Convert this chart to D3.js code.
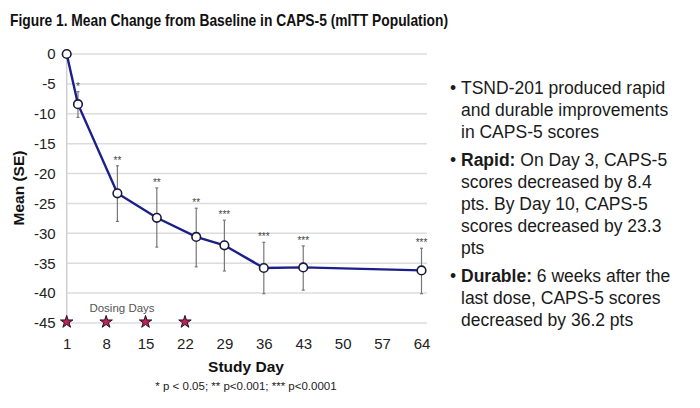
<!DOCTYPE html>
<html><head><meta charset="utf-8">
<script src="https://cdn.jsdelivr.net/npm/d3@7"></script>
<style>
body{margin:0;background:#fff;}
svg{display:block;font-family:"Liberation Sans",Arial,Helvetica,sans-serif;}
</style></head>
<body><svg id="c" width="700" height="408"></svg>
<script>
const days = [1, 3, 10, 17, 24, 29, 36, 43, 64];
const means = [0, -8.4, -23.3, -27.4, -30.6, -32.0, -35.8, -35.7, -36.2];
const seUpper = [0, -6.3, -18.7, -22.4, -25.8, -27.8, -31.5, -32.1, -32.5];
const seLower = [0, -10.6, -28.0, -32.3, -35.6, -36.3, -40.1, -39.5, -40.1];
const sigLabels = ["", "*", "**", "**", "**", "***", "***", "***", "***"];
const xTicks = [1, 8, 15, 22, 29, 36, 43, 50, 57, 64];
const yTicks = [0, -5, -10, -15, -20, -25, -30, -35, -40, -45];
const dosingDays = [1, 8, 15, 22];
const title = "Figure 1. Mean Change from Baseline in CAPS-5 (mITT Population)";
const bullets = [
  {bold: "", lines: ["TSND-201 produced rapid", "and durable improvements", "in CAPS-5 scores"]},
  {bold: "Rapid:", lines: [" On Day 3, CAPS-5", "scores decreased by 8.4", "pts. By Day 10, CAPS-5", "scores decreased by 23.3", "pts"]},
  {bold: "Durable:", lines: [" 6 weeks after the", "last dose, CAPS-5 scores", "decreased by 36.2 pts"]}
];

const svg = d3.select("#c");
const x = d3.scaleLinear().domain([1, 64]).range([66.7, 421.5]);
const y = d3.scaleLinear().domain([0, -45]).range([54, 323]);
const gridRight = 427;

svg.append("text").attr("x", 10).attr("y", 26).attr("font-size", 17).attr("font-weight", "bold")
  .attr("fill", "#111").attr("textLength", 438).attr("lengthAdjust", "spacingAndGlyphs").text(title);

// gridlines
svg.append("g").selectAll("line").data(yTicks).join("line")
  .attr("x1", x(1)).attr("x2", gridRight).attr("y1", d => y(d)).attr("y2", d => y(d))
  .attr("stroke", "#dcdcdc").attr("stroke-width", 1.5);
// y axis line
svg.append("line").attr("x1", x(1)).attr("x2", x(1)).attr("y1", y(0)).attr("y2", y(-45))
  .attr("stroke", "#cfcfcf").attr("stroke-width", 1.5);

const fmt = d => String(d);
const yAxis = svg.append("g").attr("transform", `translate(${x(1) - 11},0)`)
  .call(d3.axisLeft(y).tickValues(yTicks).tickSize(0).tickPadding(0).tickFormat(fmt));
yAxis.select(".domain").remove();
yAxis.selectAll("text").attr("font-size", 15).attr("fill", "#222").attr("font-family", "Liberation Sans,Arial,sans-serif");

const xAxis = svg.append("g").attr("transform", `translate(0,${y(-45) + 15})`)
  .call(d3.axisBottom(x).tickValues(xTicks).tickSize(0).tickPadding(0).tickFormat(fmt));
xAxis.select(".domain").remove();
xAxis.selectAll("text").attr("font-size", 15).attr("fill", "#222").attr("font-family", "Liberation Sans,Arial,sans-serif");

svg.append("text").attr("x", 246).attr("y", 372).attr("text-anchor", "middle").attr("font-size", 15.5)
  .attr("font-weight", "bold").attr("fill", "#111").text("Study Day");
svg.append("text").attr("transform", `translate(24,${188}) rotate(-90)`).attr("text-anchor", "middle")
  .attr("font-size", 15.5).attr("font-weight", "bold").attr("fill", "#111").text("Mean (SE)");
svg.append("text").attr("x", 246).attr("y", 390).attr("text-anchor", "middle").attr("font-size", 11.5)
  .attr("fill", "#222").text("* p < 0.05; ** p<0.001; *** p<0.0001");

// error bars
const eb = svg.append("g").attr("stroke", "#777").attr("stroke-width", 1.2);
days.forEach((d, i) => {
  if (i === 0) return;
  eb.append("line").attr("x1", x(d)).attr("x2", x(d)).attr("y1", y(seUpper[i])).attr("y2", y(seLower[i]));
  [seUpper[i], seLower[i]].forEach(v => eb.append("line").attr("x1", x(d) - 1.5).attr("x2", x(d) + 1.5)
    .attr("y1", y(v)).attr("y2", y(v)));
});
svg.append("g").selectAll("text").data(days).join("text")
  .attr("x", d => x(d)).attr("y", (d, i) => y(seUpper[i]) - 2).attr("text-anchor", "middle")
  .attr("font-size", 10).attr("fill", "#444").text((d, i) => sigLabels[i]);

// line
svg.append("path").datum(days.map((d, i) => [d, means[i]]))
  .attr("d", d3.line().x(p => x(p[0])).y(p => y(p[1])))
  .attr("fill", "none").attr("stroke", "#1c1f8a").attr("stroke-width", 2.4);
svg.append("g").selectAll("circle").data(days).join("circle")
  .attr("cx", d => x(d)).attr("cy", (d, i) => y(means[i])).attr("r", 4.3)
  .attr("fill", "#fff").attr("stroke", "#1a1a3a").attr("stroke-width", 1.6);

// dosing days
svg.append("g").selectAll("path").data(dosingDays).join("path")
  .attr("transform", d => `translate(${x(d)},${y(-45) - 1})`)
  .attr("d", d3.symbol().type(d3.symbolStar).size(48))
  .attr("fill", "#b8235a").attr("stroke", "#2a1020").attr("stroke-width", 1);
svg.append("text").attr("x", 122).attr("y", 312).attr("text-anchor", "middle").attr("font-size", 11.5)
  .attr("fill", "#555").text("Dosing Days");

// bullet text
const tx = 461, bx = 450;
let yy = 94;
const lh = 21.8;
const bg = svg.append("g").attr("font-size", 17.5).attr("fill", "#1a1a1a");
bullets.forEach(b => {
  bg.append("text").attr("x", bx).attr("y", yy).text("•");
  b.lines.forEach((ln, j) => {
    const t = bg.append("text").attr("x", tx).attr("y", yy + j * lh).attr("xml:space", "preserve");
    if (j === 0 && b.bold) {
      t.append("tspan").attr("font-weight", "bold").text(b.bold);
      t.append("tspan").text(ln);
    } else t.text(ln);
  });
  yy += b.lines.length * lh + 7;
});
</script></body></html>
